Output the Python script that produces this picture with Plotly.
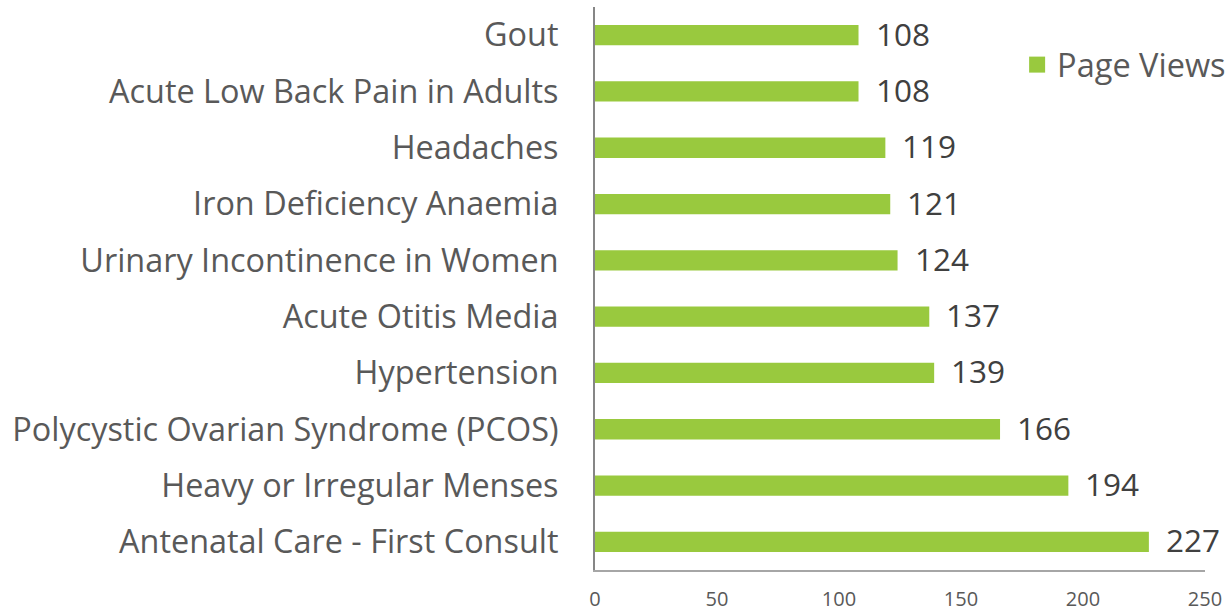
import plotly.graph_objects as go

categories = [
    "Gout",
    "Acute Low Back Pain in Adults",
    "Headaches",
    "Iron Deficiency Anaemia",
    "Urinary Incontinence in Women",
    "Acute Otitis Media",
    "Hypertension",
    "Polycystic Ovarian Syndrome (PCOS)",
    "Heavy or Irregular Menses",
    "Antenatal Care - First Consult",
]
page_views = [108, 108, 119, 121, 124, 137, 139, 166, 194, 227]
x_ticks = [0, 50, 100, 150, 200, 250]

GREEN = "#99C93E"
FONT = "Open Sans"

fig = go.Figure()
fig.add_trace(go.Bar(
    y=categories, x=page_views, orientation="h",
    marker=dict(color=GREEN, line=dict(width=0)),
    width=0.36, name="Page Views", showlegend=False,
))
fig.add_trace(go.Scatter(
    x=[None], y=[None], mode="markers", name="Page Views",
    marker=dict(symbol="square", color=GREEN, size=16),
))

for c, v in zip(categories, page_views):
    fig.add_annotation(x=v, y=c, text=str(v), showarrow=False,
                       xanchor="left", xshift=15, yshift=2,
                       font=dict(family=FONT, size=31.5, color="#404040"))

fig.update_layout(
    width=1231, height=613,
    margin=dict(l=595, r=26, t=7, b=43, autoexpand=False),
    paper_bgcolor="white", plot_bgcolor="white",
    font=dict(family=FONT),
    legend=dict(x=0.692, xanchor="left", y=0.897, yanchor="middle",
                font=dict(family=FONT, size=32.5, color="#595959"),
                itemsizing="trace", bgcolor="rgba(0,0,0,0)"),
)
fig.update_xaxes(
    range=[0, 250], tickvals=x_ticks, showgrid=False, zeroline=False,
    showline=True, linecolor="#A6A6A6", linewidth=1.5,
    tickfont=dict(family=FONT, size=20, color="#595959"),
    ticklabelstandoff=10, automargin=False,
)
fig.update_yaxes(
    categoryorder="array", categoryarray=categories, autorange="reversed",
    showgrid=False, zeroline=False,
    showline=True, linecolor="#868686", linewidth=2,
    tickfont=dict(family=FONT, size=32.4, color="#595959"),
    ticklabelstandoff=28, automargin=False,
)

fig.write_html("out.html",
               config={"displayModeBar": False},
               post_script="document.body.style.margin='0';window.dispatchEvent(new Event('resize'));")
